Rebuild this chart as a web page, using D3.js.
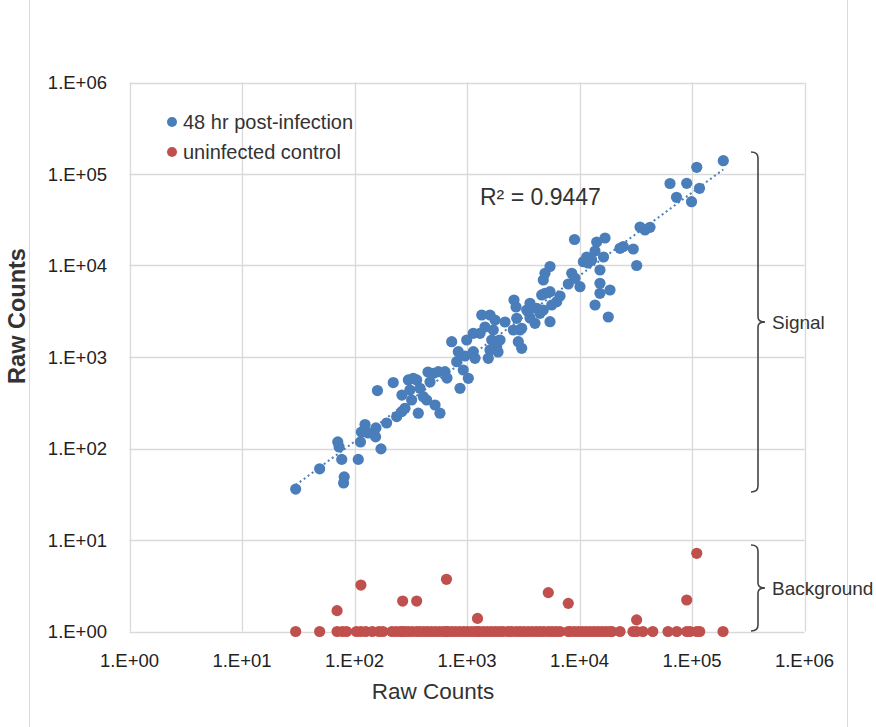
<!DOCTYPE html>
<html>
<head>
<meta charset="utf-8">
<script src="https://cdn.jsdelivr.net/npm/d3@7"></script>
<style>
  html, body { margin: 0; padding: 0; background: #fff; }
  svg { display: block; font-family: "Liberation Sans", Arial, sans-serif; }
</style>
</head>
<body>
<svg width="876" height="727"></svg>
<script>
// 48 hr post-infection
const infectedX = [30, 49, 77, 81, 80, 71, 73, 108, 113, 115, 124, 132, 149, 154, 172, 193, 160, 221, 237, 263,
  281, 301, 333, 357, 311, 322, 382, 409, 438, 369, 575, 520, 502, 556, 637, 867, 731, 837, 810, 927,
  1027, 994, 1137, 1306, 1137, 1178, 1352, 1601, 1774, 1713, 1658, 1836, 1601, 1546, 1965, 2728, 2617, 2767, 2581, 2959,
  2858, 3064, 3394, 4165, 4767, 4020, 5467, 3631, 4613, 4935, 5467, 6270, 5662, 3508, 4456, 3064, 5467, 4935, 4767, 8531,
  9120, 7950, 10100, 15200, 15200, 15200, 18670, 13740, 18030, 32220, 10820, 12830, 11590, 9030, 14220, 16860, 13740, 16350, 22910, 24500,
  30070, 34510, 38210, 42340, 63740, 89750, 116600, 72850, 99020, 110200, 189800, 469, 664, 264, 1445, 1887, 2177, 960, 450, 3631,
  6710, 11900, 155];
const infectedY = [36, 60, 76, 49, 42, 118, 104, 76, 118, 151, 183, 148, 151, 134, 99, 190, 430, 526, 223, 253,
  275, 561, 585, 561, 436, 339, 455, 368, 339, 243, 243, 299, 664, 691, 691, 455, 1469, 1143, 889, 721,
  585, 1534, 1815, 1815, 1143, 968, 2878, 2878, 2537, 1973, 1534, 1296, 1193, 968, 1534, 3519, 4198, 2649, 1973, 1973,
  1469, 1245, 3263, 3406, 3263, 2336, 2431, 3864, 4763, 4968, 5173, 4020, 3702, 3126, 3005, 2059, 9750, 8219, 6947, 8219,
  7245, 6280, 5866, 8930, 6387, 4968, 5400, 3702, 2736, 10000, 11010, 11480, 12380, 19240, 18060, 19980, 14400, 12380, 15410, 16130,
  15150, 26360, 24430, 26150, 78760, 79140, 69800, 55630, 49800, 118400, 139700, 533, 589, 384, 2128, 1135, 2413, 1026, 686, 2669,
  4643, 10650, 168];

// uninfected control
const controlX = [30, 49, 70, 78, 85, 104, 114, 126, 144, 165, 179, 215, 234, 255, 268, 278, 300, 326, 357, 380,
  412, 445, 483, 524, 570, 620, 657, 672, 730, 792, 860, 935, 1010, 1100, 1190, 1240, 1290, 1400, 1520, 1650,
  1790, 1940, 2090, 2310, 2500, 2740, 2960, 3200, 3490, 3800, 4120, 4450, 4820, 5280, 5700, 6200, 6700, 7950, 8240, 9000,
  9800, 10600, 11500, 12500, 13500, 14600, 15800, 17100, 18500, 19400, 22900, 29900, 32200, 36600, 44800, 61200, 73300, 89750, 96000, 110200,
  117000, 188700,
  70, 114, 268, 357, 657, 1240, 5280, 7950, 32200, 89750, 110200];
const controlY = [1, 1, 1, 1, 1, 1, 1, 1, 1, 1, 1, 1, 1, 1, 1, 1, 1, 1, 1, 1,
  1, 1, 1, 1, 1, 1, 1, 1, 1, 1, 1, 1, 1, 1, 1, 1, 1, 1, 1, 1,
  1, 1, 1, 1, 1, 1, 1, 1, 1, 1, 1, 1, 1, 1, 1, 1, 1, 1, 1, 1,
  1, 1, 1, 1, 1, 1, 1, 1, 1, 1, 1, 1, 1, 1, 1, 1, 1, 1, 1, 1,
  1, 1,
  1.69, 3.22, 2.15, 2.15, 3.72, 1.39, 2.66, 2.03, 1.34, 2.21, 7.16];

const tickValues = [1, 10, 100, 1000, 10000, 100000, 1000000];
const tickLabels = ['1.E+00', '1.E+01', '1.E+02', '1.E+03', '1.E+04', '1.E+05', '1.E+06'];
const seriesNames = ['48 hr post-infection', 'uninfected control'];
const rSquaredLabel = 'R² = 0.9447';

const blue = '#4a7ebb';
const red = '#c0504d';
const grid = '#d9d9d9';

const svg = d3.select('svg');
svg.append('rect').attr('width', 876).attr('height', 727).attr('fill', '#fff');

// chart area border
svg.append('rect')
  .attr('x', 29.5).attr('y', -2)
  .attr('width', 818).attr('height', 735)
  .attr('fill', 'none').attr('stroke', grid);

const x = d3.scaleLog().domain([1, 1e6]).range([129.5, 804.5]);
const y = d3.scaleLog().domain([1, 1e6]).range([631.5, 82.5]);

// gridlines
const g = svg.append('g');
g.selectAll('.vgrid').data(tickValues).enter().append('line')
  .attr('x1', d => Math.round(x(d)) + 0.5).attr('x2', d => Math.round(x(d)) + 0.5)
  .attr('y1', y(1e6)).attr('y2', y(1))
  .attr('stroke', grid).attr('stroke-width', 1.3);
g.selectAll('.hgrid').data(tickValues).enter().append('line')
  .attr('y1', d => Math.round(y(d)) + 0.5).attr('y2', d => Math.round(y(d)) + 0.5)
  .attr('x1', x(1)).attr('x2', x(1e6))
  .attr('stroke', grid).attr('stroke-width', 1.3);

// tick labels
const fmt = d => tickLabels[tickValues.indexOf(d)];
svg.append('g').selectAll('text').data(tickValues).enter().append('text')
  .attr('x', 107).attr('y', d => y(d)).attr('dy', '0.36em')
  .attr('text-anchor', 'end').attr('font-size', 18.5).attr('fill', '#222')
  .text(fmt);
svg.append('g').selectAll('text').data(tickValues).enter().append('text')
  .attr('x', d => x(d)).attr('y', 667)
  .attr('text-anchor', 'middle').attr('font-size', 18.5).attr('fill', '#222')
  .text(fmt);

// axis titles
svg.append('text')
  .attr('x', 433).attr('y', 699)
  .attr('text-anchor', 'middle').attr('font-size', 22.5).attr('fill', '#333')
  .text('Raw Counts');
svg.append('text')
  .attr('transform', 'translate(25,316) rotate(-90)')
  .attr('text-anchor', 'middle').attr('font-size', 23.5).attr('font-weight', 'bold').attr('fill', '#333')
  .text('Raw Counts');

// points
const infected = infectedX.map((d, i) => ({ x: d, y: infectedY[i] }));
const control = controlX.map((d, i) => ({ x: d, y: controlY[i] }));

svg.append('g').selectAll('circle').data(infected).enter().append('circle')
  .attr('cx', d => x(d.x)).attr('cy', d => y(d.y)).attr('r', 5.6)
  .attr('fill', blue);
svg.append('g').selectAll('circle').data(control).enter().append('circle')
  .attr('cx', d => x(d.x)).attr('cy', d => y(d.y)).attr('r', 5.6)
  .attr('fill', red);

// power trendline, least squares in log space
const lx = infected.map(d => Math.log10(d.x));
const ly = infected.map(d => Math.log10(d.y));
const mx = d3.mean(lx);
const my = d3.mean(ly);
const slope = d3.sum(lx, (v, i) => (v - mx) * (ly[i] - my)) / d3.sum(lx, v => (v - mx) * (v - mx));
const icpt = my - slope * mx;
const [x0, x1] = d3.extent(infectedX);
svg.append('line')
  .attr('x1', x(x0)).attr('y1', y(Math.pow(10, icpt) * Math.pow(x0, slope)))
  .attr('x2', x(x1)).attr('y2', y(Math.pow(10, icpt) * Math.pow(x1, slope)))
  .attr('stroke', blue).attr('stroke-width', 2)
  .attr('stroke-dasharray', '2 3');

svg.append('text')
  .attr('x', 480).attr('y', 205)
  .attr('font-size', 23).attr('fill', '#333')
  .text(rSquaredLabel);

// legend
const legend = svg.append('g').selectAll('g').data(seriesNames).enter().append('g')
  .attr('transform', (d, i) => `translate(172,${122 + i * 30})`);
legend.append('circle').attr('r', 5).attr('fill', (d, i) => (i ? red : blue));
legend.append('text')
  .attr('x', 11).attr('dy', '0.36em')
  .attr('font-size', 20).attr('fill', '#333')
  .text(d => d);

// braces
const brace = (top, bottom, label) => {
  const mid = (top + bottom) / 2;
  const bx = 758;
  svg.append('path')
    .attr('d', `M751,${top} Q${bx},${top} ${bx},${top + 6} V${mid - 5} Q${bx},${mid} ${bx + 7},${mid}
      Q${bx},${mid} ${bx},${mid + 5} V${bottom - 6} Q${bx},${bottom} 751,${bottom}`)
    .attr('fill', 'none').attr('stroke', '#444').attr('stroke-width', 1.6);
  svg.append('text')
    .attr('x', 772).attr('y', mid).attr('dy', '0.36em')
    .attr('font-size', 19).attr('fill', '#333')
    .text(label);
};
brace(152, 492, 'Signal');
brace(545, 631, 'Background');
</script>
</body>
</html>
